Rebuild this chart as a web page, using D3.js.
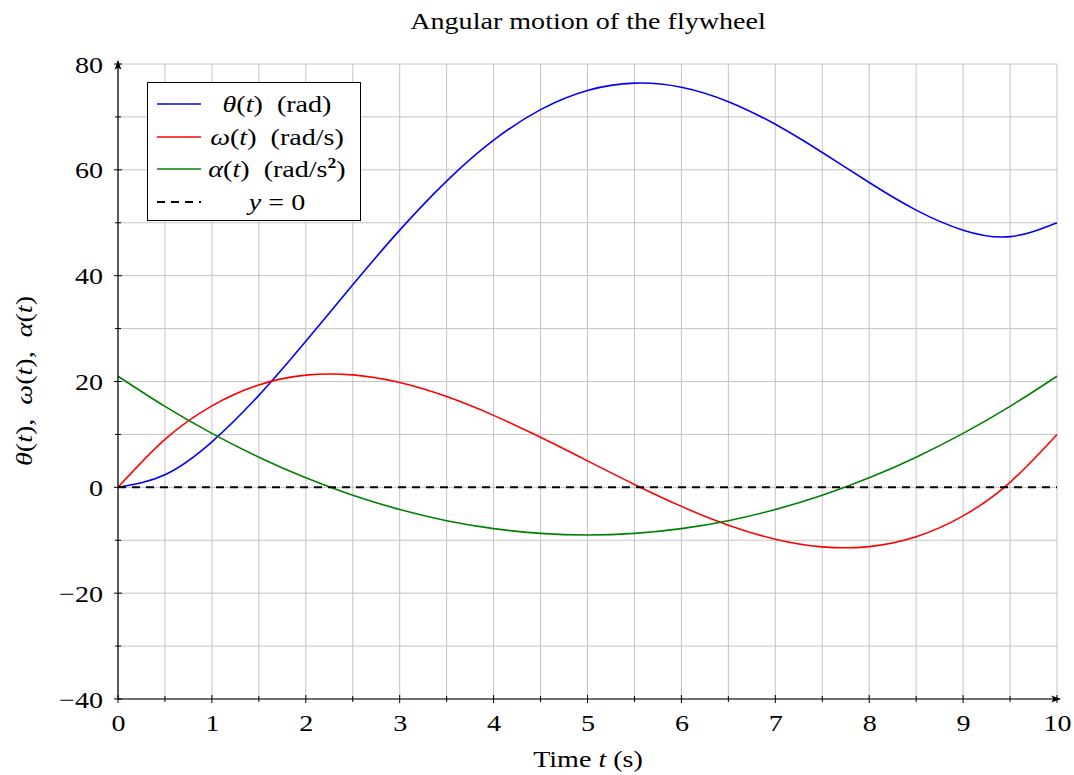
<!DOCTYPE html>
<html>
<head>
<meta charset="utf-8">
<script src="https://cdn.jsdelivr.net/npm/d3@7"></script>
<style>
  html, body { margin: 0; padding: 0; background: #fff; }
  svg { display: block; font-family: "Liberation Serif", "DejaVu Serif", serif; }
</style>
</head>
<body>
<svg id="chart" width="1074" height="775"></svg>
<script>
// Sample times (s)
const times = [0, 0.5, 1, 1.5, 2, 2.5, 3, 3.5, 4, 4.5, 5, 5.5, 6, 6.5, 7, 7.5, 8, 8.5, 9, 9.5, 10];
// Angle theta(t) in rad
const theta = [0, 2.38, 8.6, 17.38, 27.6, 38.28, 48.6, 57.88, 65.6, 71.38, 75, 76.38, 75.6, 72.88, 68.6, 63.28, 57.6, 52.38, 48.6, 47.38, 50];
// Angular velocity omega(t) in rad/s
const omega = [0, 9.05, 15.4, 19.35, 21.2, 21.25, 19.8, 17.15, 13.6, 9.45, 5, 0.55, -3.6, -7.15, -9.8, -11.25, -11.2, -9.35, -5.4, 0.95, 10];
// Angular acceleration alpha(t) in rad/s^2
const alpha = [21, 15.3, 10.2, 5.7, 1.8, -1.5, -4.2, -6.3, -7.8, -8.7, -9, -8.7, -7.8, -6.3, -4.2, -1.5, 1.8, 5.7, 10.2, 15.3, 21];
// Reference line y = 0
const zeroLine = [0, 0];
const zeroTimes = [0, 10];

const xTicks = [0, 1, 2, 3, 4, 5, 6, 7, 8, 9, 10];
const yTicks = [-40, -20, 0, 20, 40, 60, 80];
const xMinor = [0.5, 1.5, 2.5, 3.5, 4.5, 5.5, 6.5, 7.5, 8.5, 9.5];
const yMinor = [-30, -10, 10, 30, 50, 70];

(function () {
const svg = d3.select("#chart");
const pl = 118, pr = 1057, pt = 64, pb = 699;
const FS = 24;      // text size
const SX = 1.17;    // horizontal widening of the serif face
const DASH = "8,6";

const x = d3.scaleLinear().domain([0, 10]).range([pl, pr]);
const y = d3.scaleLinear().domain([-40, 80]).range([pb, pt]);

// Widened text placed at (px, py), optionally rotated
function label(parent, px, py, anchor, rot) {
  const g = parent.append("g")
    .attr("transform", `translate(${px},${py})${rot ? ` rotate(${rot})` : ""} scale(${SX},1)`);
  return g.append("text").attr("text-anchor", anchor).attr("font-size", FS).attr("fill", "#000");
}

// Grid
const grid = svg.append("g").attr("stroke", "#c4c4c4").attr("stroke-width", 1);
[...xTicks, ...xMinor].forEach(v => {
  grid.append("line").attr("x1", x(v)).attr("x2", x(v)).attr("y1", pt).attr("y2", pb);
});
[...yTicks, ...yMinor].forEach(v => {
  grid.append("line").attr("x1", pl).attr("x2", pr).attr("y1", y(v)).attr("y2", y(v));
});

// Axes built from D3 axis generators
const xAxis = d3.axisBottom(x).tickValues(xTicks).tickSize(0)
  .tickFormat(d => d3.format("d")(d));
const yAxis = d3.axisLeft(y).tickValues(yTicks).tickSize(0)
  .tickFormat(d => (d < 0 ? "\u2212" + Math.abs(d) : String(d)));

const gx = svg.append("g").attr("transform", `translate(0,${pb})`).call(xAxis);
const gy = svg.append("g").attr("transform", `translate(${pl},0)`).call(yAxis);
[gx, gy].forEach(g => {
  g.select(".domain").remove();
  g.attr("font-family", null).attr("font-size", null);
  g.selectAll("text").attr("font-size", FS).attr("fill", "#000")
    .attr("x", null).attr("y", null).attr("dy", null);
});
gx.selectAll("text").attr("transform", `translate(0,32) scale(${SX},1)`);
gy.selectAll("text").attr("transform", `translate(-15,8) scale(${SX},1)`);

// Tick marks crossing the axis lines
const ticksG = svg.append("g").attr("stroke", "#000").attr("stroke-width", 1);
xTicks.concat(xMinor).forEach(v => {
  const len = xTicks.includes(v) ? 4 : 3;
  ticksG.append("line").attr("x1", x(v)).attr("x2", x(v)).attr("y1", pb - len).attr("y2", pb + len);
});
yTicks.concat(yMinor).forEach(v => {
  const len = yTicks.includes(v) ? 4 : 3;
  ticksG.append("line").attr("x1", pl - len).attr("x2", pl + len).attr("y1", y(v)).attr("y2", y(v));
});

// Data curves
const series = [
  { vals: theta, color: "#0000ff" },
  { vals: omega, color: "#ff0000" },
  { vals: alpha, color: "#008000" }
];
const line = d3.line().x(d => x(d[0])).y(d => y(d[1])).curve(d3.curveNatural);
series.forEach(s => {
  svg.append("path")
    .datum(times.map((t, i) => [t, s.vals[i]]))
    .attr("fill", "none").attr("stroke", s.color).attr("stroke-width", 1.6)
    .attr("d", line);
});
svg.append("path")
  .datum(zeroTimes.map((t, i) => [t, zeroLine[i]]))
  .attr("fill", "none").attr("stroke", "#000").attr("stroke-width", 2)
  .attr("stroke-dasharray", DASH)
  .attr("d", d3.line().x(d => x(d[0])).y(d => y(d[1])));

// Axis lines with arrowheads
const defs = svg.append("defs");
defs.append("marker").attr("id", "arrow").attr("viewBox", "0 0 10 10")
  .attr("refX", 9).attr("refY", 5).attr("markerWidth", 10).attr("markerHeight", 10)
  .attr("markerUnits", "userSpaceOnUse").attr("orient", "auto")
  .append("path").attr("d", "M0,1.5 Q4,5 0,8.5 L10,5 Z").attr("fill", "#000");
svg.append("line").attr("x1", pl).attr("x2", pl).attr("y1", pb).attr("y2", pt - 3)
  .attr("stroke", "#000").attr("stroke-width", 1.2).attr("marker-end", "url(#arrow)");
svg.append("line").attr("x1", pl).attr("x2", pr + 3).attr("y1", pb).attr("y2", pb)
  .attr("stroke", "#000").attr("stroke-width", 1.2).attr("marker-end", "url(#arrow)");

// Title and axis labels
label(svg, 588, 29, "middle").text("Angular motion of the flywheel");

const xl = label(svg, 588, 767, "middle");
xl.append("tspan").text("Time ");
xl.append("tspan").attr("font-style", "italic").text("t");
xl.append("tspan").text(" (s)");

const yl = label(svg, 32, 381, "middle", -90);
yl.style("white-space", "pre");
[["θ", "t"], ["ω", "t"], ["α", "t"]].forEach((p, i) => {
  yl.append("tspan").attr("font-style", "italic").text(p[0]);
  yl.append("tspan").text("(");
  yl.append("tspan").attr("font-style", "italic").text(p[1]);
  yl.append("tspan").text(i < 2 ? "),  " : ")");
});

// Legend
const lg = svg.append("g");
lg.append("rect").attr("x", 147.5).attr("y", 82.5).attr("width", 213).attr("height", 138)
  .attr("fill", "#fff").attr("stroke", "#000").attr("stroke-width", 1);
const legendItems = [
  { color: "#0000ff", dash: null, parts: [["θ", 1], ["(", 0], ["t", 1], [")  (rad)", 0]] },
  { color: "#ff0000", dash: null, parts: [["ω", 1], ["(", 0], ["t", 1], [")  (rad/s)", 0]] },
  { color: "#008000", dash: null, parts: [["α", 1], ["(", 0], ["t", 1], [")  (rad/s", 0], ["2", 2], [")", 3]] },
  { color: "#000", dash: DASH, parts: [["y", 1], [" = 0", 0]] }
];
const rowY = [104, 137, 169, 202];
legendItems.forEach((it, i) => {
  const yy = rowY[i];
  lg.append("line").attr("x1", 157).attr("x2", 201).attr("y1", yy).attr("y2", yy)
    .attr("stroke", it.color).attr("stroke-width", it.dash ? 2 : 1.6)
    .attr("stroke-dasharray", it.dash);
  const t = label(lg, 277, yy + 8, "middle");
  t.style("white-space", "pre");
  it.parts.forEach(p => {
    const ts = t.append("tspan").text(p[0]);
    if (p[1] === 1) ts.attr("font-style", "italic");
    if (p[1] === 2) ts.attr("font-size", 15).attr("font-weight", "bold").attr("dy", -9);
    if (p[1] === 3) ts.attr("dy", 9);
  });
});
})();
</script>
</body>
</html>
